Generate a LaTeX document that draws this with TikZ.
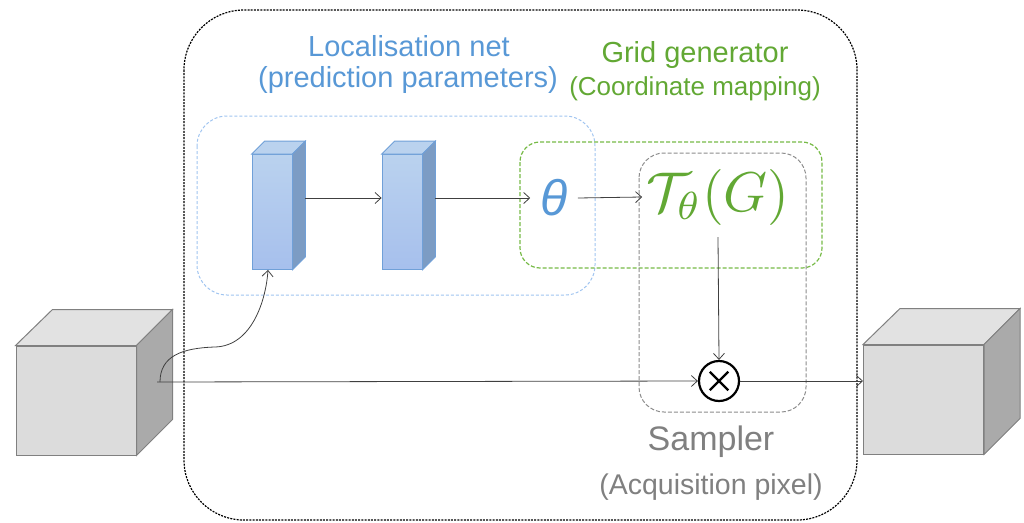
\documentclass[tikz,border=0pt]{standalone}
\usepackage{fontspec}
\setmainfont{Liberation Sans}
\usetikzlibrary{arrows.meta,calc}
\definecolor{ltext}{RGB}{88,152,214}
\definecolor{lbox}{RGB}{160,196,240}
\definecolor{gtext}{RGB}{98,168,52}
\definecolor{gbox}{RGB}{118,186,70}
\definecolor{stext}{RGB}{128,128,128}
\definecolor{sbox}{RGB}{140,140,140}
\definecolor{blkfront}{RGB}{164,196,232}
\definecolor{blktop}{RGB}{186,210,238}
\definecolor{blkside}{RGB}{124,156,196}
\definecolor{blkedge}{RGB}{112,160,216}
\definecolor{cubefront}{RGB}{220,220,220}
\definecolor{cubetop}{RGB}{226,226,226}
\definecolor{cubeside}{RGB}{170,170,170}
\definecolor{cubeedge}{RGB}{128,128,128}
\tikzset{
  conn/.style={draw=black!75, line width=0.8pt, -{Straight Barb[length=6pt,width=11pt]}},
  outerbox/.style={draw=black, line width=1.2pt, dash pattern=on 2pt off 1.2pt, rounded corners=60pt},
  locbox/.style={draw=lbox, line width=1pt, dash pattern=on 3pt off 2pt, rounded corners=30pt},
  gridbox/.style={draw=gbox, line width=1.2pt, dash pattern=on 4pt off 2pt, rounded corners=20pt},
  sampbox/.style={draw=sbox, line width=1pt, dash pattern=on 4pt off 2pt, rounded corners=25pt},
  blockface/.style={draw=blkedge, line width=0.8pt, minimum width=40pt, minimum height=115pt, inner sep=0pt, top color=blktop, bottom color=blkfront!92!blue!85!white},
  cubeface/.style={draw=cubeedge, line width=1pt, fill=cubefront, minimum width=120pt, minimum height=109pt, inner sep=0pt},
  ltitle/.style={text=ltext, font=\fontsize{29}{32}\selectfont},
  gtitle/.style={text=gtext, font=\fontsize{29}{32}\selectfont},
  gsub/.style={text=gtext, font=\fontsize{26}{30}\selectfont},
  stitle/.style={text=stext, font=\fontsize{34}{38}\selectfont},
  ssub/.style={text=stext, font=\fontsize{28.5}{32}\selectfont},
}
\begin{document}
\begin{tikzpicture}[x=1pt,y=-1pt]
\useasboundingbox (0,0) rectangle (1024,522);
% outer and grouping boxes
\draw[outerbox] (184,10) rectangle (857,520);
\draw[locbox] (197,116) rectangle (595,295);
\draw[gridbox] (520,142) rectangle (822,268);
\draw[sampbox] (639,153) rectangle (806,412);

% labels
\node[ltitle] (lt1) at (409,46) {Localisation net};
\node[ltitle] (lt2) at (408,80) {(prediction parameters)};
\node[gtitle] (gt1) at (695,55) {Grid generator};
\node[gsub] (gt2) at (695,89) {(Coordinate mapping)};
\node[stitle] (st1) at (711,442) {Sampler};
\node[ssub] (st2) at (711,487) {(Acquisition pixel)};

% blocks of localisation net
\node[blockface] (b1) at (272,212) {};
\node[blockface] (b2) at (402,212) {};
\foreach \b in {b1,b2}{
  \filldraw[draw=blkedge, line width=0.8pt, fill=blktop] (\b.north west) -- ++(13,-13) -- ($(\b.north east)+(13,-13)$) -- (\b.north east) -- cycle;
  \filldraw[draw=blkedge, line width=0.8pt, fill=blkside] (\b.north east) -- ++(13,-13) -- ($(\b.south east)+(13,-13)$) -- (\b.south east) -- cycle;
}

% cubes
\node[cubeface] (in) at (76,400.5) {};
\node[cubeface] (out) at (923.5,399.5) {};
\foreach \c in {in,out}{
  \filldraw[draw=cubeedge, line width=1pt, fill=cubetop] (\c.north west) -- ++(37,-36) -- ($(\c.north east)+(36,-36)$) -- (\c.north east) -- cycle;
  \filldraw[draw=cubeedge, line width=1pt, fill=cubeside] (\c.north east) -- ++(36,-36) -- ($(\c.south east)+(36,-36)$) -- (\c.south east) -- cycle;
}

% theta and transform
\node[text=ltext, inner xsep=10pt, font=\fontsize{50}{50}\selectfont\itshape] (th) at (554,198) {θ};
\node[text=gtext, inner xsep=4pt, inner ysep=12pt] (tg) at (718,197) {\scalebox{5.6}{$\mathcal{T}_\theta(G)$}};

% sampler
\node[circle, draw=black, line width=2.2pt, minimum size=40pt, inner sep=0pt] (mul) at (719,381) {};
\draw[black, line width=2.2pt] ($(mul.center)!0.62!(mul.north west)$) -- ($(mul.center)!0.62!(mul.south east)$);
\draw[black, line width=2.2pt] ($(mul.center)!0.62!(mul.north east)$) -- ($(mul.center)!0.62!(mul.south west)$);

% connectors
\coordinate (src) at (157,382);
\coordinate (b1out) at ($(b1.east)+(13,-14)$);
\coordinate (b2out) at ($(b2.east)+(13,-14)$);
\draw[conn] (b1out) -- (b1out -| b2.west);
\draw[conn] (b2out) -- (th.west);
\draw[conn] (th.east) -- (tg.west);
\draw[conn] (tg.south) -- (mul.north);
\draw[conn] (src) -- (mul.west);
\draw[conn] (mul.east) -- (mul -| out.west);
\draw[conn] (src) ++(3,0) .. controls (160,356) and (182,348) .. (215,347)
  .. controls (252,346) and (266,300) .. ([xshift=-4pt]b1.south);
\end{tikzpicture}
\end{document}
